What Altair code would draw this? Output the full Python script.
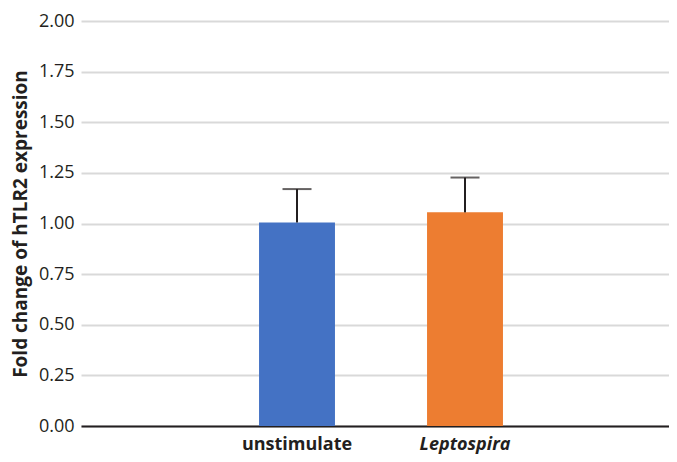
import altair as alt
import pandas as pd

categories = ["unstimulate", "Leptospira"]
values = [1.005, 1.055]
errors = [0.165, 0.172]
colors = ["#4472C4", "#ED7D31"]

# one empty slot on the left, as in the reference's category axis
x_domain = [" ", "unstimulate", "Leptospira"]

df = pd.DataFrame({
    "cat": categories,
    "val": values,
    "err": errors,
    "color": colors,
})
df["upper"] = df["val"] + df["err"]

FONT = "Open Sans"
TEXT = "#231f20"

x_scale = alt.Scale(domain=x_domain, paddingInner=0.548, paddingOuter=0.524, align=0.057)

x = alt.X(
    "cat:N",
    title=None,
    scale=x_scale,
    axis=alt.Axis(
        labelFont=FONT,
        labelFontSize=18,
        labelFontWeight="bold",
        labelFontStyle=alt.expr("datum.value == 'Leptospira' ? 'italic' : 'normal'"),
        labelColor=TEXT,
        labelPadding=9,
        labelAngle=0,
        ticks=False,
        domainColor=TEXT,
        domainWidth=2,
        grid=False,
    ),
)

y_axis = alt.Axis(
    values=[0, 0.25, 0.5, 0.75, 1.0, 1.25, 1.5, 1.75, 2.0],
    format=".2f",
    labelFont=FONT,
    labelFontSize=18,
    labelColor=TEXT,
    labelPadding=7,
    ticks=False,
    domain=False,
    gridColor="#d9d9d9",
    gridWidth=2,
    title="Fold change of hTLR2 expression",
    titleFont=FONT,
    titleFontSize=19,
    titleFontWeight="bold",
    titleColor=TEXT,
    titlePadding=8,
)

bars = alt.Chart(df).mark_bar().encode(
    x=x,
    y=alt.Y("val:Q", scale=alt.Scale(domain=[0, 2], nice=False), axis=y_axis),
    color=alt.Color("color:N", scale=None),
)

rules = alt.Chart(df).mark_rule(color=TEXT, strokeWidth=2).encode(
    x=alt.X("cat:N"),
    y=alt.Y("val:Q"),
    y2="upper:Q",
)

caps = alt.Chart(df).mark_tick(color=TEXT, thickness=2, size=29).encode(
    x=alt.X("cat:N"),
    y=alt.Y("upper:Q"),
)

chart = (
    alt.layer(bars, rules, caps)
    .properties(
        width=588,
        height=405,
        background="white",
        autosize=alt.AutoSizeParams(type="none"),
        padding={"left": 73, "top": 13, "right": 0, "bottom": 28},
    )
    .configure_view(strokeWidth=0, stroke="transparent")
    .configure_axisY(domain=False, ticks=False)
    .configure_axisX(grid=False, ticks=False)
)

chart.save("out.html", embed_options={"renderer": "svg", "actions": False})
